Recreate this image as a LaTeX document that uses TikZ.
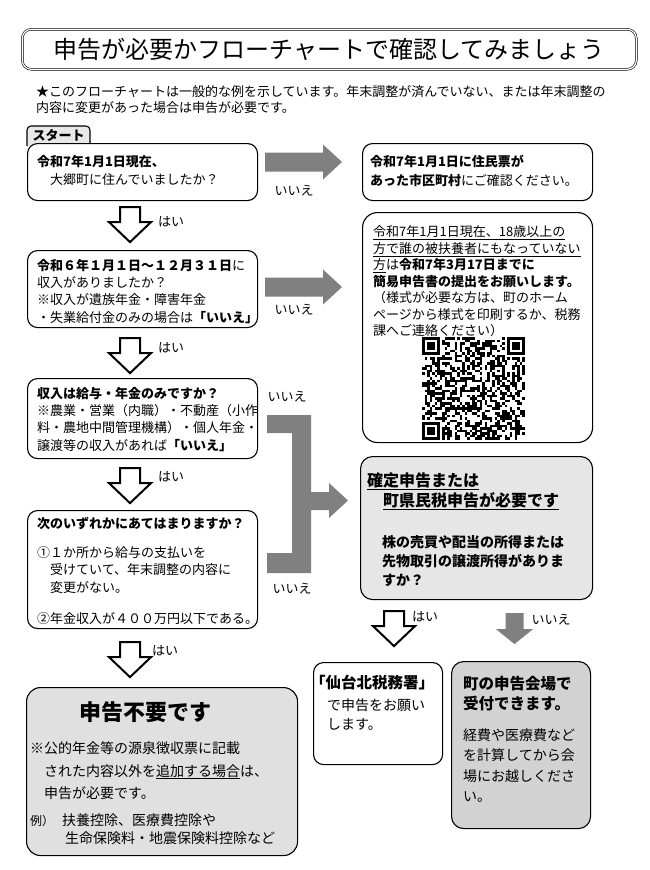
\documentclass[tikz,border=0pt]{standalone}
\usepackage{fontspec}
\setmainfont{Noto Sans CJK JP}
\usepackage{xcolor}
\usepackage{tikz}
\usetikzlibrary{calc}

\definecolor{arrowgray}{HTML}{808080}
\definecolor{tabgray}{HTML}{E8E8E8}
\definecolor{needgray}{HTML}{E6E6E6}
\definecolor{nonegray}{HTML}{E0E0E0}
\definecolor{hallgray}{HTML}{D2D2D2}

\newcommand{\fsz}[2]{\fontsize{#1}{#2}\selectfont}

\tikzset{
	box/.style = {draw, line width=1.1pt, rounded corners=10pt, fill=white, anchor=north west, inner sep=0pt},
	txt/.style = {anchor=north west, inner sep=0pt, align=left, font=\fsz{13}{17.5}},
	lbl/.style = {inner sep=0pt, font=\fsz{13}{13}},
	hollow down/.pic = {
		\draw[line width=2pt, fill=white, line join=miter] (-10,1) -- (10,1) -- (10,16) -- (21,16) -- (0,36) -- (-21,16) -- (-10,16) -- cycle;
	},
	gray right/.pic = {
		\fill[arrowgray] (0,-9.5) -- (58,-9.5) -- (58,-17.5) -- (77,0) -- (58,17.5) -- (58,9.5) -- (0,9.5) -- cycle;
	},
	gray down/.pic = {
		\fill[arrowgray] (-9,0) -- (9,0) -- (9,16) -- (18.5,16) -- (0,31) -- (-18.5,16) -- (-9,16) -- cycle;
	},
}

\begin{document}
\begin{tikzpicture}[x=1pt, y=-1pt]
	\def\bw{230};

	\fill[white] (0,0) rectangle (650,870);
	\useasboundingbox (0,0) rectangle (650,870);

	% title and note
	\node[draw, double, double distance=1.2pt, line width=0.6pt, rounded corners=9pt, minimum width=614, minimum height=40, anchor=north west] (title) at (22,29) {};
	\node[font=\fsz{24}{24}] (titletext) at (title.center) {申告が必要かフローチャートで確認してみましょう};
	\node[txt, font=\fsz{13}{16}] (note) at (36,85.8) {★このフローチャートは一般的な例を示しています。年末調整が済んでいない、または年末調整の\\内容に変更があった場合は申告が必要です。};

	% left column
	\draw[line width=1.1pt, fill=tabgray, rounded corners=4pt] (27,146) -- (27,126) -- (90,126) -- (90,146);
	\node[box, minimum width=\bw, minimum height=57] (q1) at (27,143) {};
	\node[font=\fsz{13}{13}\bfseries, inner sep=0pt] (start) at (58.5,135) {スタート};
	\node[txt, font=\fsz{13}{18.5}] (q1t) at ($(q1.north west)+(10,11.8)$) {\textbf{令和7年1月1日現在、}\\　大郷町に住んでいましたか？};

	\node[box, minimum width=\bw, minimum height=77] (q2) at (27,250) {};
	\node[txt, font=\fsz{13}{17.4}] (q2t) at ($(q2.north west)+(10,8.8)$) {\textbf{令和６年１月１日～１２月３１日}に\\収入がありましたか？\\※収入が遺族年金・障害年金\\・失業給付金のみの場合は\textbf{「いいえ」}};

	\node[box, minimum width=\bw, minimum height=80] (q3) at (27,378) {};
	\node[txt, font=\fsz{13}{17.3}] (q3t) at ($(q3.north west)+(10,8.8)$) {\textbf{収入は給与・年金のみですか？}\\※農業・営業（内職）・不動産（小作\\料・農地中間管理機構）・個人年金・\\譲渡等の収入があれば\textbf{「いいえ」}};

	\node[box, minimum width=\bw, minimum height=118] (q4) at (27,510) {};
	\node[txt, font=\fsz{13}{17.5}] (q4t) at ($(q4.north west)+(10,6.8)$) {\textbf{次のいずれかにあてはまりますか？}\\[11.5pt]①１か所から給与の支払いを\\　受けていて、年末調整の内容に\\　変更がない。\\[13.5pt]②年金収入が４００万円以下である。};

	\node[box, minimum width=271, minimum height=168, fill=nonegray, rounded corners=14pt] (none) at (26,687) {};
	\node[font=\fsz{22}{22}\bfseries, inner sep=0pt] (nonetitle) at (145,712) {申告不要です};
	\node[txt, font=\fsz{14}{22.7}] (nonet) at ($(none.north west)+(4,54.3)$) {※公的年金等の源泉徴収票に記載\\　された内容以外を\underline{追加する場合}は、\\　申告が必要です。};
	\node[txt, font=\fsz{14}{18}] (nonex) at ($(none.north west)+(4,126.3)$) {{\fsz{12}{18}例）}\hspace{8pt}扶養控除、医療費控除や\\\hspace{35pt}生命保険料・地震保険料控除など};

	% right column
	\node[box, minimum width=\bw, minimum height=57] (r1) at (362,143) {};
	\node[txt, font=\fsz{13}{19}] (r1t) at ($(r1.north west)+(8,11.8)$) {\textbf{令和7年1月1日に住民票が}\\\textbf{あった市区町村}にご確認ください。};

	\node[box, minimum width=\bw, minimum height=230, rounded corners=15pt] (r2) at (362,212) {};
	\node[txt, font=\fsz{13}{16.5}] (r2t) at ($(r2.north west)+(11,13.8)$) {\underline{令和7年1月1日現在、18歳以上の}\\\underline{方で誰の被扶養者にもなっていない}\\\underline{方}は\textbf{令和7年3月17日までに}\\\textbf{簡易申告書の提出をお願いします。}\\（様式が必要な方は、町のホーム\\ページから様式を印刷するか、税務\\課へご連絡ください）};

	\begin{scope}[shift={(422,337)}, x=2.5pt, y=-2.5pt]
		\pgfmathsetseed{2025}
		\foreach \i in {0,...,40} {
			\foreach \j in {0,...,40} {
				\pgfmathtruncatemacro\on{((\i<8 && \j<8) || (\i>32 && \j<8) || (\i<8 && \j>32)) ? 0 : (rnd<0.5 ? 1 : 0)}
				\ifnum\on=1 \fill (\i,\j) rectangle ++(1,1); \fi
			}
		}
		\foreach \a/\b in {0/0, 34/0, 0/34} {
			\fill (\a,\b) rectangle ++(7,7);
			\fill[white] (\a+1,\b+1) rectangle ++(5,5);
			\fill (\a+2,\b+2) rectangle ++(3,3);
		}
	\end{scope}

	\node[box, minimum width=232, minimum height=143, fill=needgray, rounded corners=12pt] (need) at (360,456) {};
	\node[txt, font=\fsz{16}{20}\bfseries] (needt) at ($(need.north west)+(7,16.3)$) {\underline{確定申告または}\\　\underline{町県民税申告が必要です}};
	\node[txt, font=\fsz{14}{19}\bfseries] (needq) at ($(need.north west)+(22,79.3)$) {株の売買や配当の所得または\\先物取引の譲渡所得がありま\\すか？};

	\node[box, minimum width=129, minimum height=102] (tax) at (313,662) {};
	\node[txt, font=\fsz{15.5}{15.5}\bfseries] (taxt) at ($(tax.north west)+(-3,12.6)$) {「仙台北税務署」};
	\node[txt, font=\fsz{14}{19}] (taxb) at ($(tax.north west)+(14,36.3)$) {で申告をお願い\\します。};

	\node[box, minimum width=139, minimum height=167, fill=hallgray, rounded corners=12pt] (hall) at (451,661) {};
	\node[txt, font=\fsz{15.5}{20}\bfseries] (hallt) at ($(hall.north west)+(12,14.6)$) {町の申告会場で\\受付できます。};
	\node[txt, font=\fsz{14}{20.5}] (hallb) at ($(hall.north west)+(12,67.3)$) {経費や医療費など\\を計算してから会\\場にお越しくださ\\い。};

	% arrows
	\pic at ($(q1.south west)+(103,5)$) {hollow down};
	\pic at ($(q2.south west)+(103,9)$) {hollow down};
	\pic at ($(q3.south west)+(103,8)$) {hollow down};
	\pic at ($(q4.south west)+(103,12)$) {hollow down};
	\pic at ($(need.south west)+(34,10)$) {hollow down};
	\pic at (265,162) {gray right};
	\pic at (265,287) {gray right};
	\pic at ($(need.south west)+(154.5,13)$) {gray down};
	\fill[arrowgray] (267,415) -- (311,415) -- (311,492) -- (329,492) -- (329,483) -- (348,500.5) -- (329,518) -- (329,510) -- (311,510) -- (311,573) -- (267,573) -- (267,553) -- (292,553) -- (292,433) -- (267,433) -- cycle;

	\node[lbl] (no1) at (294,191) {いいえ};
	\node[lbl] (no2) at (294,310) {いいえ};
	\node[lbl] (no3) at (287,397) {いいえ};
	\node[lbl] (no4) at (292,589) {いいえ};
	\node[lbl] (no5) at (551,620) {いいえ};
	\node[lbl] (yes1) at (171,222) {はい};
	\node[lbl] (yes2) at (171,348) {はい};
	\node[lbl] (yes3) at (171,477) {はい};
	\node[lbl] (yes4) at (165,651) {はい};
	\node[lbl] (yes5) at (425,617) {はい};
\end{tikzpicture}
\end{document}
